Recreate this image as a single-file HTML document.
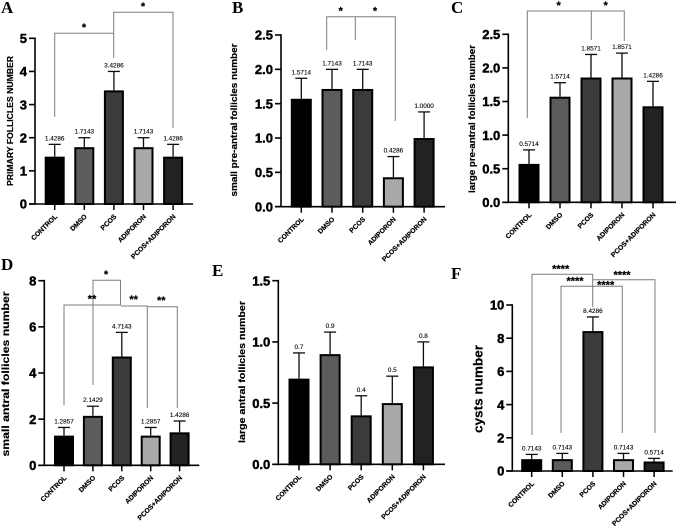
<!DOCTYPE html>
<html lang="en">
<head>
<meta charset="utf-8">
<title>Follicle counts by treatment group</title>
<style>
html,body{margin:0;padding:0;background:#fff;}
svg{display:block;font-family:"Liberation Sans",Arial,sans-serif;}
.br{fill:none;stroke:#7d7d7d;stroke-width:1;}
.star{font-size:11px;font-weight:bold;text-anchor:middle;fill:#000;stroke:#000;stroke-width:0.2;}
.letter{font-family:"Liberation Serif",serif;font-weight:bold;font-size:17px;fill:#000;}
</style>
</head>
<body>
<svg id="figure" width="676" height="530" viewBox="0 0 676 530" xmlns="http://www.w3.org/2000/svg">
<defs><filter id="soft" x="-2%" y="-2%" width="104%" height="104%"><feGaussianBlur stdDeviation="0.3"/></filter></defs>
<g id="root" filter="url(#soft)">
<g>
<text class="letter" x="1" y="13">A</text>
<text class="letter" x="232" y="13">B</text>
<text class="letter" x="451" y="13">C</text>
<text class="letter" x="1" y="270">D</text>
<text class="letter" x="212" y="276">E</text>
<text class="letter" x="451" y="279">F</text>
</g>
<g>
<path class="br" d="M54.7 117V33.3H113.7"/>
<path class="br" d="M113.7 58V12.3H173V128"/>
<text class="star" x="84" y="31">*</text><text class="star" x="143" y="10">*</text>
</g>
<g>
<path class="br" d="M326.7 50V16.7H395.3V121"/>
<path class="br" d="M355.3 16.7V40"/>
<text class="star" x="340.7" y="14.5">*</text><text class="star" x="375" y="14.5">*</text>
</g>
<g>
<path class="br" d="M527.3 118V11H624.3V41"/>
<path class="br" d="M591.3 11V40"/>
<text class="star" x="558.7" y="9">*</text><text class="star" x="605.7" y="9">*</text>
</g>
<g>
<path class="br" d="M64 405V305H121V305"/>
<path class="br" d="M93 385V280.3H120.5V305"/>
<path class="br" d="M121 306H147.3V408"/>
<path class="br" d="M147.3 306.7H177.3V408"/>
<text class="star" x="106" y="278">*</text>
<text class="star" x="92" y="302.5">**</text><text class="star" x="133.7" y="303">**</text><text class="star" x="161.3" y="304">**</text>
</g>
<g>
<path class="br" d="M532 435V274.3H592.7V307"/>
<path class="br" d="M561 433V286.3H622.3V433"/>
<path class="br" d="M592.7 279.7H655V433"/>
<text class="star" x="560.7" y="272.5">****</text><text class="star" x="575" y="284.5">****</text>
<text class="star" x="605.7" y="288.5">****</text><text class="star" x="622" y="278.5">****</text>
</g>
<g id="charts"></g>
</g>
</svg>
<script>
const categories = ['CONTROL', 'DMSO', 'PCOS', 'ADIPORON', 'PCOS+ADIPORON'];
const barFills = ['#000000', '#5c5c5c', '#3a3a3a', '#a9a9a9', '#222222'];

const panelAValues = [1.4286, 1.7143, 3.4286, 1.7143, 1.4286];
const panelAErrorTops = [1.8, 2.0, 4.0, 2.0, 1.8];
const panelALabels = ['1.4286', '1.7143', '3.4286', '1.7143', '1.4286'];
const panelATicks = ['0', '1', '2', '3', '4', '5'];

const panelBValues = [1.5714, 1.7143, 1.7143, 0.4286, 1.0];
const panelBErrorTops = [1.87, 2.0, 2.0, 0.73, 1.38];
const panelBLabels = ['1.5714', '1.7143', '1.7143', '0.4286', '1.0000'];
const panelBTicks = ['0.0', '0.5', '1.0', '1.5', '2.0', '2.5'];

const panelCValues = [0.5714, 1.5714, 1.8571, 1.8571, 1.4286];
const panelCErrorTops = [0.78, 1.78, 2.2, 2.22, 1.8];
const panelCLabels = ['0.5714', '1.5714', '1.8571', '1.8571', '1.4286'];
const panelCTicks = ['0.0', '0.5', '1.0', '1.5', '2.0', '2.5'];

const panelDValues = [1.2857, 2.1429, 4.7143, 1.2857, 1.4286];
const panelDErrorTops = [1.64, 2.56, 5.76, 1.64, 1.92];
const panelDLabels = ['1.2857', '2.1429', '4.7143', '1.2857', '1.4286'];
const panelDTicks = ['0', '2', '4', '6', '8'];

const panelEValues = [0.7, 0.9, 0.4, 0.5, 0.8];
const panelEErrorTops = [0.91, 1.08, 0.56, 0.72, 1.0];
const panelELabels = ['0.7', '0.9', '0.4', '0.5', '0.8'];
const panelETicks = ['0.0', '0.5', '1.0', '1.5'];

const panelFValues = [0.7143, 0.7143, 8.4286, 0.7143, 0.5714];
const panelFErrorTops = [1.0, 1.06, 9.28, 1.06, 0.76];
const panelFLabels = ['0.7143', '0.7143', '8.4286', '0.7143', '0.5714'];
const panelFTicks = ['0', '2', '4', '6', '8', '10'];

const NS = 'http://www.w3.org/2000/svg';
const chartsRoot = document.getElementById('charts');

function make(parent, tag, attrs, text) {
  const el = document.createElementNS(NS, tag);
  for (const k in attrs) el.setAttribute(k, attrs[k]);
  if (text !== undefined) el.textContent = text;
  parent.appendChild(el);
  return el;
}

function drawPanel(id, frame, title, values, errorTops, labels, ticks) {
  const group = make(chartsRoot, 'g', {});
  
  

  const yMax = parseFloat(ticks[ticks.length - 1]);
  const yScale = v => frame.yZero - (v / yMax) * (frame.yZero - frame.yTop);
  const xScale = i => frame.firstBar + i * frame.barStep;

  values.forEach((value, i) => {
    const cx = xScale(i);
    const inset = 1;
    const errorLine = make(group, 'line', { x1: cx, x2: cx, y1: yScale(value), y2: yScale(errorTops[i]), stroke: '#111', 'stroke-width': 1.3 });
    
    

    const errorCap = make(group, 'line', { x1: cx - 6, x2: cx + 6, y1: yScale(errorTops[i]), y2: yScale(errorTops[i]), stroke: '#111', 'stroke-width': 1.3 });
    
    

    const bar = make(group, 'rect', {
      x: cx - frame.barWidth / 2 + inset,
      y: yScale(value) + inset,
      width: frame.barWidth - 2 * inset,
      height: Math.max(0, frame.yZero - yScale(value) - inset),
      fill: barFills[i],
      stroke: '#000',
      'stroke-width': 2
    });
    
    

    const valueLabel = make(group, 'text', { x: cx, y: yScale(errorTops[i]) - 4, 'text-anchor': 'middle', 'font-size': 6.4, fill: '#000', stroke: '#000', 'stroke-width': 0.12 }, labels[i]);
    
    

    const xTick = make(group, 'line', { x1: cx, x2: cx, y1: frame.yZero, y2: frame.yZero + 6, stroke: '#000', 'stroke-width': 1.5 });
    
    

    const ex = cx + 3, ey = frame.yZero + 13;
    const xLabel = make(group, 'text', { x: ex, y: ey, 'text-anchor': 'end', 'font-size': 6.8, 'font-weight': 'bold', fill: '#000', stroke: '#000', 'stroke-width': 0.2, transform: 'rotate(-45 ' + ex + ' ' + ey + ')' }, categories[i]);
    
    
  });

  const xAxis = make(group, 'line', { x1: frame.xAxis - 6, x2: frame.xEnd, y1: frame.yZero, y2: frame.yZero, stroke: '#000', 'stroke-width': 1.6 });
  
  

  const yAxis = make(group, 'line', { x1: frame.xAxis, x2: frame.xAxis, y1: yScale(yMax) - 0.8, y2: frame.yZero + 0.8, stroke: '#000', 'stroke-width': 1.6 });
  
  

  ticks.forEach(tick => {
    const ty = yScale(parseFloat(tick));
    const yTick = make(group, 'line', { x1: frame.xAxis - 6, x2: frame.xAxis, y1: ty, y2: ty, stroke: '#000', 'stroke-width': 1.6 });
    
    

    const yLabel = make(group, 'text', { x: frame.xAxis - 8, y: ty + 4.7, 'text-anchor': 'end', 'font-size': 13, 'font-weight': 'bold', fill: '#000', stroke: '#000', 'stroke-width': 0.45 }, tick);
    
    
  });

  const tx = frame.titleX, ty = frame.titleY;
  const yTitle = make(group, 'text', {
    x: tx, y: ty, 'text-anchor': 'middle', 'font-size': frame.titleSize, 'font-weight': 'bold', fill: '#000', stroke: '#000', 'stroke-width': 0.2,
    textLength: frame.titleLength, lengthAdjust: 'spacingAndGlyphs',
    transform: 'rotate(-90 ' + tx + ' ' + ty + ')'
  }, title);
  
  
}

drawPanel('a', { xAxis: 35, xEnd: 193, yZero: 204, yTop: 38.3, firstBar: 54.7, barStep: 29.6, barWidth: 20, titleX: 13, titleY: 121, titleSize: 8.2, titleLength: 130 },
  'PRIMARY FOLLICLES NUMBER', panelAValues, panelAErrorTops, panelALabels, panelATicks);
drawPanel('b', { xAxis: 281, xEnd: 445, yZero: 206.7, yTop: 35, firstBar: 301.3, barStep: 30.7, barWidth: 21, titleX: 237, titleY: 120, titleSize: 9, titleLength: 153 },
  'small pre-antral follicles number', panelBValues, panelBErrorTops, panelBLabels, panelBTicks);
drawPanel('c', { xAxis: 508.3, xEnd: 676, yZero: 202.3, yTop: 34.3, firstBar: 529, barStep: 31, barWidth: 21, titleX: 475, titleY: 119, titleSize: 9, titleLength: 148 },
  'large pre-antral follicles number', panelCValues, panelCErrorTops, panelCLabels, panelCTicks);
drawPanel('d', { xAxis: 44.3, xEnd: 199.3, yZero: 465.3, yTop: 280.7, firstBar: 64, barStep: 28.9, barWidth: 20, titleX: 9, titleY: 374, titleSize: 10, titleLength: 165 },
  'small antral follicles number', panelDValues, panelDErrorTops, panelDLabels, panelDTicks);
drawPanel('e', { xAxis: 278.3, xEnd: 445, yZero: 464.3, yTop: 280.7, firstBar: 299, barStep: 31.1, barWidth: 21, titleX: 245, titleY: 372, titleSize: 9, titleLength: 142 },
  'large antral follicles number', panelEValues, panelEErrorTops, panelELabels, panelETicks);
drawPanel('f', { xAxis: 512.3, xEnd: 672.7, yZero: 471, yTop: 305, firstBar: 531.7, barStep: 30.6, barWidth: 21, titleX: 482.5, titleY: 389, titleSize: 13, titleLength: 88 },
  'cysts number', panelFValues, panelFErrorTops, panelFLabels, panelFTicks);
</script>
</body>
</html>
